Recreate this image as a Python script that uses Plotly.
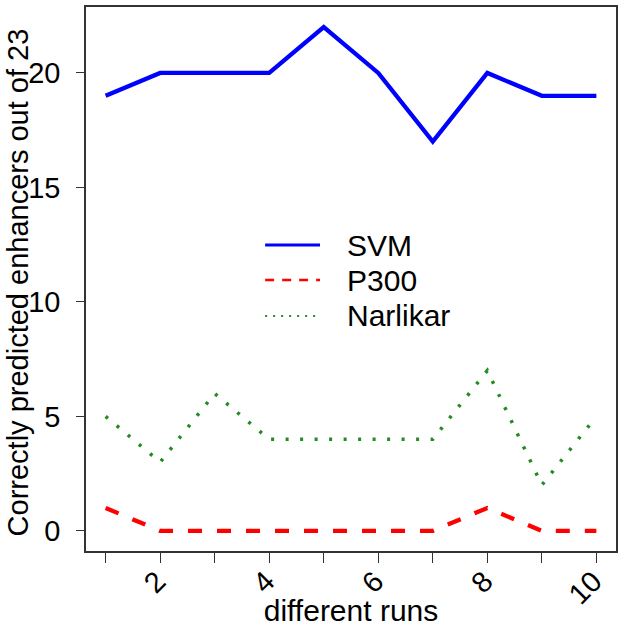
import plotly.graph_objects as go

runs = [1, 2, 3, 4, 5, 6, 7, 8, 9, 10]
svm = [19, 20, 20, 20, 22, 20, 17, 20, 19, 19]
p300 = [1, 0, 0, 0, 0, 0, 0, 1, 0, 0]
narlikar = [5, 3, 6, 4, 4, 4, 4, 7, 2, 5]

x_tickvals = [1, 2, 3, 4, 5, 6, 7, 8, 9, 10]
x_ticktext = ["", "2", "", "4", "", "6", "", "8", "", "10"]
y_tickvals = [0, 5, 10, 15, 20]

legend_names = ["SVM", "P300", "Narlikar"]
legend_colors = ["#0000FF", "#FF0000", "#228B22"]

x_title = "different runs"
y_title = "Correctly predicted enhancers out of 23"

FONT = "Liberation Sans, Arial, sans-serif"

fig = go.Figure()
fig.add_trace(go.Scatter(x=runs, y=svm, mode="lines", name="SVM",
                         line=dict(color="#0000FF", width=4.3)))
fig.add_trace(go.Scatter(x=runs, y=p300, mode="lines", name="P300",
                         line=dict(color="#FF0000", width=4.3, dash="14px,15px")))
fig.add_trace(go.Scatter(x=runs, y=narlikar, mode="lines", name="Narlikar",
                         line=dict(color="#228B22", width=3.5, dash="3px,11.5px")))

# manual legend (no box), paper coordinates
leg_x0, leg_x1, leg_tx = 0.338, 0.4415, 0.4885
leg_y = [0.5625, 0.498, 0.432]
leg_w = [3, 2.5, 2]
leg_dash = ["solid", "9px,8px", "2px,6px"]
for name, col, yy, w, d in zip(legend_names, legend_colors, leg_y, leg_w, leg_dash):
    fig.add_shape(type="line", xref="paper", yref="paper", x0=leg_x0, x1=leg_x1,
                  y0=yy, y1=yy, line=dict(color=col, width=w, dash=d))
    fig.add_annotation(xref="paper", yref="paper", x=leg_tx, y=yy, text=name,
                       showarrow=False, xanchor="left", yanchor="middle",
                       font=dict(family=FONT, size=30, color="black"))

# y-axis title as rotated annotation
fig.add_annotation(xref="paper", yref="paper", x=-0.128, y=0.494, text=y_title,
                   textangle=-90, showarrow=False, xanchor="center", yanchor="middle",
                   font=dict(family=FONT, size=29, color="black"))

axis_common = dict(showline=True, mirror=True, linecolor="#333333", linewidth=1.5,
                   ticks="outside", tickcolor="#333333", tickwidth=1.2,
                   showgrid=False, zeroline=False,
                   tickfont=dict(family=FONT, size=29, color="black"))

fig.update_xaxes(range=[0.64, 10.36], tickmode="array", tickvals=x_tickvals,
                 ticktext=x_ticktext, tickangle=-45, ticklen=10,
                 ticklabelstandoff=-10, ticklabelshift=-3,
                 title=dict(text=x_title, standoff=0,
                            font=dict(family=FONT, size=30, color="black")),
                 **axis_common)
fig.update_yaxes(range=[-0.88, 22.88], tickmode="array", tickvals=y_tickvals,
                 tickangle=0, ticklen=8, ticklabelstandoff=10,
                 **axis_common)

fig.update_layout(width=624, height=627, showlegend=False,
                  margin=dict(l=86, r=8, t=7, b=76, autoexpand=False),
                  plot_bgcolor="white", paper_bgcolor="white",
                  font=dict(family=FONT, color="black"))

fig.write_html("out.html", config={"displayModeBar": False},
               post_script="document.body.style.margin='0';")
